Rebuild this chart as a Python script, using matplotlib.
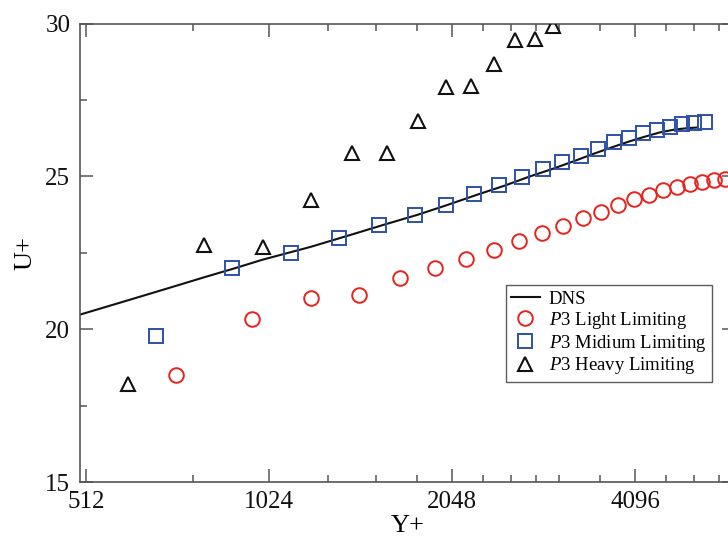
import matplotlib
matplotlib.use("Agg")
import matplotlib.pyplot as plt
from matplotlib.ticker import FixedLocator, NullFormatter, FixedFormatter

plt.rcParams['font.family'] = ['Liberation Serif', 'DejaVu Serif']
plt.rcParams['mathtext.fontset'] = 'custom'
plt.rcParams['mathtext.rm'] = 'Liberation Serif'
plt.rcParams['mathtext.it'] = 'Liberation Serif:italic'

# DNS profile
dns_x = [500, 600, 700, 800, 900, 1000, 1200, 1400, 1600, 1800, 2000, 2250, 2500,
         2750, 3000, 3250, 3500, 3750, 4000, 4250, 4500, 4750, 5000, 5186]
dns_y = [20.48, 20.95, 21.35, 21.70, 22.00, 22.28, 22.70, 23.10, 23.45, 23.75, 24.05,
         24.40, 24.70, 25.00, 25.25, 25.50, 25.74, 25.95, 26.14, 26.30, 26.44, 26.53,
         26.58, 26.60]

# P3 Light Limiting
light_x = [720, 960, 1200, 1440, 1680, 1920, 2160, 2400, 2640, 2880, 3120, 3360,
           3600, 3840, 4080, 4320, 4560, 4800, 5040, 5280, 5520, 5760]
light_y = [18.51, 20.34, 21.02, 21.13, 21.67, 22.00, 22.30, 22.60, 22.89, 23.15, 23.39,
           23.64, 23.84, 24.05, 24.25, 24.38, 24.56, 24.67, 24.75, 24.82, 24.88, 24.92]

# P3 Midium Limiting
medium_x = [666.7, 888.9, 1111.1, 1333.3, 1555.6, 1777.8, 2000.0, 2222.2, 2444.4,
            2666.7, 2888.9, 3111.1, 3333.3, 3555.6, 3777.8, 4000.0, 4222.2, 4444.4,
            4666.7, 4888.9, 5111.1, 5333.3]
medium_y = [19.77, 22.01, 22.49, 22.98, 23.40, 23.73, 24.07, 24.41, 24.71, 24.99, 25.25,
            25.48, 25.67, 25.91, 26.11, 26.26, 26.42, 26.53, 26.63, 26.72, 26.74, 26.77]

# P3 Heavy Limiting
heavy_x = [600, 800, 1000, 1200, 1400, 1600, 1800, 2000, 2200, 2400, 2600, 2800, 3000]
heavy_y = [18.20, 22.77, 22.70, 24.22, 25.77, 25.78, 26.80, 27.94, 27.97, 28.66,
           29.47, 29.50, 29.91]

x_major = [512, 1024, 2048, 4096]
x_major_labels = ['512', '1024', '2048', '4096']
x_minor = [768, 1280, 1536, 1792, 2304, 2560, 2816, 3072, 3584, 4608, 5120, 5632]
y_major = [15, 20, 25, 30]
y_minor = [17.5, 22.5, 27.5]

fig = plt.figure(figsize=(7.28, 5.38), dpi=100)
ax = fig.add_axes([80/728, (538-482.3)/538, 655/728, 458.8/538])

ax.plot(dns_x, dns_y, color='#111111', lw=1.5, label='DNS', zorder=2)
ax.plot(light_x, light_y, ls='none', marker='o', ms=10.5, mfc='none', mec='#e8221c',
        mew=1.4, label='$P$3 Light Limiting', zorder=3)
ax.plot(medium_x, medium_y, ls='none', marker='s', ms=9.5, mfc='none', mec='#2d50a8',
        mew=1.4, label='$P$3 Midium Limiting', zorder=3)
ax.plot(heavy_x, heavy_y, ls='none', marker='^', ms=10, mfc='none', mec='#111111',
        mew=1.5, label='$P$3 Heavy Limiting', zorder=3)

ax.set_xscale('log', base=2)
ax.set_xlim(500.4, 5980)
ax.set_ylim(15, 30)
ax.xaxis.set_major_locator(FixedLocator(x_major))
ax.xaxis.set_major_formatter(FixedFormatter(x_major_labels))
ax.xaxis.set_minor_locator(FixedLocator(x_minor))
ax.xaxis.set_minor_formatter(NullFormatter())
ax.yaxis.set_major_locator(FixedLocator(y_major))
ax.yaxis.set_minor_locator(FixedLocator(y_minor))
ax.yaxis.set_minor_formatter(NullFormatter())

spine_col = '#555555'
for s in ax.spines.values():
    s.set_color(spine_col)
    s.set_linewidth(1.2)
ax.tick_params(which='both', direction='in', top=True, right=True, color=spine_col,
               width=1.1, labelsize=18, labelcolor='#111111')
ax.tick_params(which='major', length=9.5)
ax.tick_params(which='minor', length=5)
ax.tick_params(axis='x', which='major', pad=6)
ax.tick_params(axis='y', which='major', pad=7)

ax.set_xlabel('Y+', fontsize=19, labelpad=2)
ax.set_ylabel('U+', fontsize=19, labelpad=6.5)

leg = ax.legend(loc='upper left', bbox_to_anchor=(0.650, 0.430), borderaxespad=0,
                fontsize=13.5, frameon=True, fancybox=False, edgecolor='#333333',
                handlelength=1.5, handletextpad=0.5, labelspacing=0.1,
                borderpad=0.3, numpoints=1)
leg.get_frame().set_linewidth(1.0)

fig.savefig('out.png', dpi=100)
